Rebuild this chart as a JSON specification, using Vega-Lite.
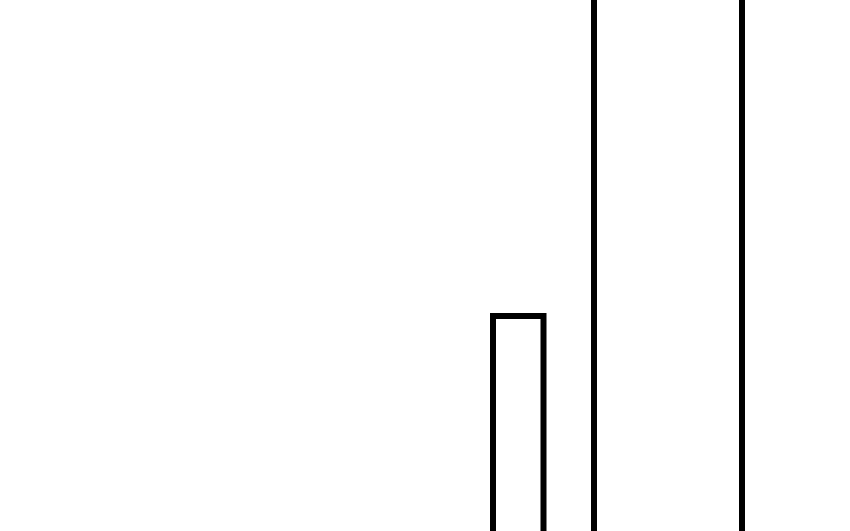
{
  "$schema": "https://vega.github.io/schema/vega-lite/v6.json",
  "width": 850,
  "height": 531,
  "autosize": {"type": "fit", "contains": "padding"},
  "padding": 0,
  "background": "white",
  "config": {"view": {"stroke": null}},
  "data": {"values": [
    {"start": 9.86, "end": 10.87, "value": 4.3, "base": -1},
    {"start": 11.88, "end": 14.84, "value": 20, "base": -1}
  ]},
  "mark": {"type": "rect", "fill": "white", "stroke": "black", "strokeWidth": 6, "clip": true},
  "encoding": {
    "x": {"field": "start", "type": "quantitative", "scale": {"domain": [0, 17], "nice": false, "zero": false}, "axis": null},
    "x2": {"field": "end"},
    "y": {"field": "value", "type": "quantitative", "scale": {"domain": [0, 10.62], "nice": false, "zero": false}, "axis": null},
    "y2": {"field": "base"}
  }
}
